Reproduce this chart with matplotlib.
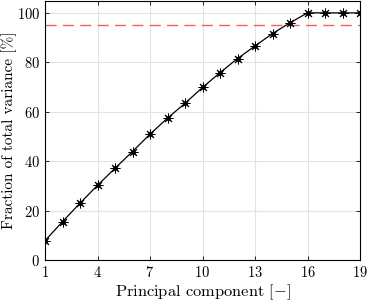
import numpy as np
import matplotlib
matplotlib.use("Agg")
import matplotlib.pyplot as plt

# cumulative explained variance per principal component
components = np.arange(1, 20)
variance = [7.8, 15.5, 23.0, 30.2, 37.1, 43.9, 50.9, 57.4, 63.4, 69.8,
            75.8, 81.5, 86.6, 91.6, 96.0, 100.0, 100.0, 100.0, 100.0]
threshold = 95
xticks = [1, 4, 7, 10, 13, 16, 19]
yticks = [0, 20, 40, 60, 80, 100]

plt.rcParams["font.family"] = "serif"
plt.rcParams["font.serif"] = ["cmr10"]
plt.rcParams["mathtext.fontset"] = "cm"
plt.rcParams["axes.formatter.use_mathtext"] = True

fig = plt.figure(figsize=(3.67, 3.01), dpi=100)
ax = fig.add_axes([45 / 367, 41 / 301, 315 / 367, 259.5 / 301])

ax.axhline(threshold, color="#f06262", ls=(0, (8, 4.5)), lw=1.0, zorder=2)
ax.plot(components, variance, color="black", lw=0.9, marker=(8, 2, 0),
        ms=7, mew=0.7, zorder=3)
ax.plot(components, variance, ls="none", marker="o", color="black",
        ms=2.5, zorder=4)

ax.set_xlim(1, 19)
ax.set_ylim(0, 105)
ax.set_xticks(xticks)
ax.set_yticks(yticks)
ax.grid(True, color="#e3e3e3", lw=0.8)
ax.set_axisbelow(True)
ax.tick_params(direction="in", top=True, right=True, labelsize=10.5,
               length=3, width=0.6)
ax.tick_params(axis="x", pad=3.5)
for s in ax.spines.values():
    s.set_linewidth(0.8)

ax.set_xlabel(r"Principal component $[-]$", fontsize=11.8, va="center")
ax.set_ylabel("Fraction of total variance [%]", fontsize=11, va="center")
ax.xaxis.set_label_coords(0.5, -0.123)
ax.yaxis.set_label_coords(-0.114, 0.5)

fig.savefig("out.png", dpi=100)
